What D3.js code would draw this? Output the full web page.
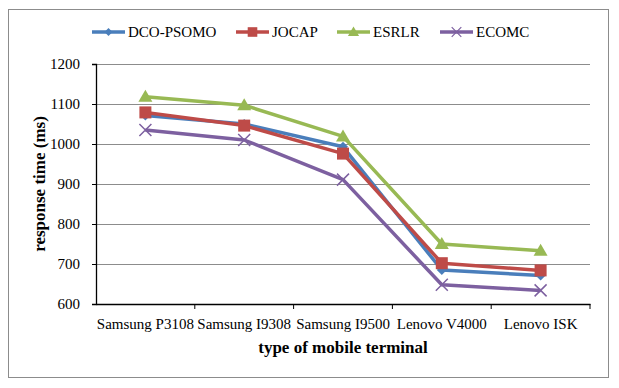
<!DOCTYPE html>
<html>
<head>
<meta charset="utf-8">
<script src="https://cdn.jsdelivr.net/npm/d3@7"></script>
<style>
	body { margin: 0; background: #fff; }
	svg text { font-family: "Liberation Serif", "Times New Roman", serif !important; fill: #000; }
</style>
</head>
<body>
<div id="container"></div>
<script>
// data
var terminals = ["Samsung P3108", "Samsung I9308", "Samsung I9500", "Lenovo V4000", "Lenovo ISK"];
var dcoPsomo = [1071, 1050, 993, 685, 671];
var jocap    = [1079, 1046, 976, 702, 684];
var esrlr    = [1118, 1097, 1019, 750, 733];
var ecomc    = [1035, 1010, 911, 648, 634];
var yTicks   = [600, 700, 800, 900, 1000, 1100, 1200];

var series = [
	{ name: "DCO-PSOMO", values: dcoPsomo, color: "#4a7ebb", marker: "diamond" },
	{ name: "JOCAP",     values: jocap,    color: "#be4b48", marker: "square" },
	{ name: "ESRLR",     values: esrlr,    color: "#98b954", marker: "triangle" },
	{ name: "ECOMC",     values: ecomc,    color: "#7d60a0", marker: "cross" }
];

var W = 619, H = 388;
var margin = {top: 64, right: 29, bottom: 84, left: 96},
	width = W - margin.left - margin.right,
	height = H - margin.top - margin.bottom;

var serif = '"Liberation Serif", "Times New Roman", serif';

var svg = d3.select("#container")
	.append("svg")
	.attr("width", W)
	.attr("height", H);

// outer frame
svg.append("rect")
	.attr("x", 8.5).attr("y", 9.5)
	.attr("width", 600).attr("height", 368)
	.attr("fill", "none")
	.attr("stroke", "#8c8c8c")
	.attr("stroke-width", 1);

var plot = svg.append("g")
	.attr("transform", "translate(" + margin.left + "," + margin.top + ")");

var x = d3.scaleBand().domain(terminals).range([0, width]);
var y = d3.scaleLinear().domain([600, 1200]).range([height, 0]);

// gridlines
plot.selectAll(".grid")
	.data(yTicks.slice(1))
	.enter().append("line")
	.attr("x1", 0).attr("x2", width)
	.attr("y1", function(d) { return y(d) + 0.5; })
	.attr("y2", function(d) { return y(d) + 0.5; })
	.attr("stroke", "#8c8c8c")
	.attr("stroke-width", 1);

// axes
var yAxis = plot.append("g")
	.call(d3.axisLeft(y).tickValues(yTicks).tickFormat(d3.format("d")).tickSize(4).tickPadding(12));
yAxis.attr("font-family", serif);
yAxis.select(".domain").attr("stroke", "#000").attr("stroke-width", 1.3);
yAxis.selectAll(".tick line").attr("stroke", "#000");
yAxis.selectAll("text").style("font-size", "15px").style("font-family", serif);

var xAxis = plot.append("g")
	.attr("transform", "translate(0," + height + ")")
	.call(d3.axisBottom(x).tickSize(0).tickPadding(14));
xAxis.attr("font-family", serif);
xAxis.select(".domain").attr("stroke", "#000").attr("stroke-width", 1.3);
xAxis.selectAll("text").style("font-size", "15px").style("font-family", serif);

// category boundary ticks
plot.selectAll(".xtick")
	.data(terminals)
	.enter().append("line")
	.attr("x1", function(d) { return x(d) + x.bandwidth(); })
	.attr("x2", function(d) { return x(d) + x.bandwidth(); })
	.attr("y1", height).attr("y2", height + 5)
	.attr("stroke", "#000");

// axis titles
svg.append("text")
	.attr("x", margin.left + width / 2)
	.attr("y", 353)
	.attr("text-anchor", "middle")
	.style("font-family", serif)
	.style("font-size", "17px")
	.style("font-weight", "bold")
	.text("type of mobile terminal");

svg.append("text")
	.attr("transform", "translate(45," + (margin.top + height / 2) + ") rotate(-90)")
	.attr("text-anchor", "middle")
	.style("font-family", serif)
	.style("font-size", "17px")
	.style("font-weight", "bold")
	.text("response time (ms)");

function drawMarker(g, type, color) {
	if (type === "diamond") {
		g.append("path").attr("d", "M0,-5L5,0L0,5L-5,0Z").attr("fill", color);
	} else if (type === "square") {
		g.append("rect").attr("x", -6).attr("y", -6).attr("width", 12).attr("height", 12).attr("fill", color);
	} else if (type === "triangle") {
		g.append("path").attr("d", "M0,-7L7,5L-7,5Z").attr("fill", color);
	} else {
		g.append("path").attr("d", "M-6,-6L6,6M-6,6L6,-6").attr("stroke", color).attr("stroke-width", 1.5).attr("fill", "none");
	}
}

var line = d3.line()
	.x(function(d, i) { return x(terminals[i]) + x.bandwidth() / 2; })
	.y(function(d) { return y(d); });

series.forEach(function(s) {
	plot.append("path")
		.datum(s.values)
		.attr("d", line)
		.attr("fill", "none")
		.attr("stroke", s.color)
		.attr("stroke-width", 3.5)
		.attr("stroke-linejoin", "round");
});

series.forEach(function(s) {
	s.values.forEach(function(v, i) {
		var g = plot.append("g")
			.attr("transform", "translate(" + (x(terminals[i]) + x.bandwidth() / 2) + "," + y(v) + ")");
		drawMarker(g, s.marker, s.color);
	});
});

// legend
var legendX = [92, 236, 337, 440];
var legend = svg.append("g");
series.forEach(function(s, i) {
	var lg = legend.append("g").attr("transform", "translate(" + legendX[i] + ",32)");
	lg.append("line")
		.attr("x1", 0).attr("x2", 33)
		.attr("y1", 0).attr("y2", 0)
		.attr("stroke", s.color)
		.attr("stroke-width", 3.5);
	var m = lg.append("g").attr("transform", "translate(16.5,0) scale(0.8)");
	drawMarker(m, s.marker, s.color);
	lg.append("text")
		.attr("x", 36)
		.attr("y", 5)
		.style("font-family", serif)
		.style("font-size", "15px")
		.text(s.name);
});
</script>
</body>
</html>
